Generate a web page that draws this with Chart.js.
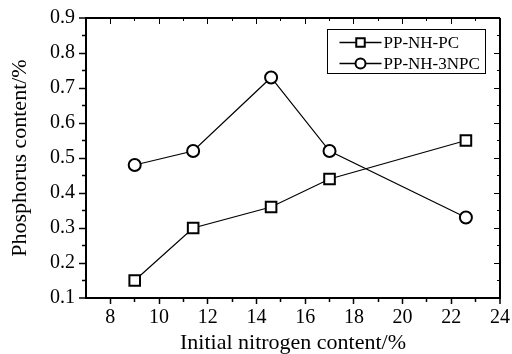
<!DOCTYPE html>
<html>
<head>
<meta charset="utf-8">
<script src="https://cdn.jsdelivr.net/npm/chart.js@4/dist/chart.umd.min.js"></script>
<style>
  html,body{margin:0;padding:0;background:#fff;}
  #wrap{width:512px;height:354px;position:relative;}
</style>
</head>
<body>
<div id="wrap"><canvas id="chart"></canvas></div>
<script>
// phosphorus content vs initial nitrogen content
const nitrogenPC=[9.0,11.4,14.6,17.0,22.6];
const phosPC=[0.15,0.30,0.36,0.44,0.55];
const nitrogen3NPC=[9.0,11.4,14.6,17.0,22.6];
const phos3NPC=[0.48,0.52,0.73,0.52,0.33];
const seriesNames=['PP-NH-PC','PP-NH-3NPC'];

const xMajor=[8,10,12,14,16,18,20,22,24];
const xMinor=[9,11,13,15,17,19,21,23];
const yMajor=[0.1,0.2,0.3,0.4,0.5,0.6,0.7,0.8,0.9];
const yMinor=[0.15,0.25,0.35,0.45,0.55,0.65,0.75,0.85];

const SERIF='"Liberation Serif","Times New Roman",serif';
const has=(arr,v)=>arr.some(a=>Math.abs(a-v)<1e-6);
const tickList=(a,b)=>[...a,...b].sort((p,q)=>p-q).map(v=>({value:v}));

// legend box drawn inside the plot, top right
const boxLegend={id:'boxLegend',afterDraw(chart){
  const {ctx,chartArea:ca}=chart;
  const left=ca.left+241.5,top=ca.top+11.5,w=158,h=44;
  ctx.save();
  ctx.fillStyle='#fff';ctx.strokeStyle='#000';ctx.lineWidth=1;
  ctx.fillRect(left,top,w,h);ctx.strokeRect(left,top,w,h);
  chart.data.datasets.forEach((ds,i)=>{
    const y=top+13+i*21,x0=left+12,x1=left+54,mx=(x0+x1)/2;
    ctx.strokeStyle='#000';ctx.lineWidth=1.5;
    ctx.beginPath();ctx.moveTo(x0,y);ctx.lineTo(x1,y);ctx.stroke();
    ctx.fillStyle='#fff';ctx.lineWidth=2;
    Chart.helpers.drawPoint(ctx,{pointStyle:ds.pointStyle,radius:ds.pointStyle==='rect'?6:5,rotation:0,borderWidth:2},mx,y);
    ctx.fillStyle='#000';ctx.font='17px '+SERIF;ctx.textBaseline='middle';ctx.textAlign='left';
    ctx.fillText(ds.label,x1+2,y+1);
  });
  ctx.restore();
}};

new Chart(document.getElementById('chart'),{type:'line',
  data:{datasets:[
    {label:seriesNames[0],data:nitrogenPC.map((x,i)=>({x,y:phosPC[i]})),
      borderColor:'#000',borderWidth:1.2,pointStyle:'rect',pointRadius:7.5,pointBorderWidth:2,
      pointBackgroundColor:'#fff',pointBorderColor:'#000',tension:0},
    {label:seriesNames[1],data:nitrogen3NPC.map((x,i)=>({x,y:phos3NPC[i]})),
      borderColor:'#000',borderWidth:1.2,pointStyle:'circle',pointRadius:6,pointBorderWidth:2,
      pointBackgroundColor:'#fff',pointBorderColor:'#000',tension:0}]},
  options:{responsive:true,maintainAspectRatio:false,animation:false,
    layout:{padding:{top:18,right:11,left:0,bottom:0}},
    plugins:{legend:{display:false},tooltip:{enabled:false}},
    scales:{
      x:{type:'linear',position:'bottom',min:7,max:24,
        afterBuildTicks:s=>{s.ticks=tickList(xMajor,xMinor);},
        afterFit:s=>{s.height=56;},
        ticks:{autoSkip:false,maxRotation:0,padding:2,color:'#000',font:{family:SERIF,size:20},
          callback:v=>has(xMajor,v)?String(v):''},
        grid:{color:'#000',lineWidth:c=>c.tick&&c.tick.value===24?2:1,
          tickLength:6,tickWidth:1.5,tickColor:'#000',
          tickBorderDash:c=>c.tick&&has(xMinor,c.tick.value)?[3,100]:[]},
        border:{color:'#000',width:2,
          dash:c=>{if(!c.tick)return [];const v=c.tick.value;
            if(v===24)return [];return has(xMajor,v)?[6,10000]:[3,10000];}},
        title:{display:true,text:'Initial nitrogen content/%',color:'#000',
          font:{family:SERIF,size:22,lineHeight:1},padding:0}},
      y:{type:'linear',min:0.1,max:0.9,
        afterBuildTicks:s=>{s.ticks=tickList(yMajor,yMinor);},
        afterFit:s=>{s.width=86;},
        ticks:{autoSkip:false,padding:4,color:'#000',font:{family:SERIF,size:20},
          callback:v=>has(yMajor,v)?v.toFixed(1):''},
        grid:{color:'#000',
          lineWidth:c=>{if(!c.tick)return 1;const v=c.tick.value;
            if(Math.abs(v-0.9)<1e-6)return 2;if(Math.abs(v-0.1)<1e-6)return 0;return 1;},
          tickLength:7,tickWidth:1.5,tickColor:'#000',
          tickBorderDash:c=>c.tick&&has(yMinor,c.tick.value)?[0,3,3,100]:[]},
        border:{color:'#000',width:2,
          dash:c=>{if(!c.tick)return [];const v=c.tick.value;
            if(Math.abs(v-0.9)<1e-6)return [];
            const ca=c.chart.chartArea,w=ca.right-ca.left-1;
            const L=has(yMajor,v)?6:3;return [0,w-L,L,10000];}},
        title:{display:true,text:'Phosphorus content/%',color:'#000',
          font:{family:SERIF,size:22,lineHeight:1},padding:{top:9,bottom:0}}}
    }},
  plugins:[boxLegend]
});
</script>
</body>
</html>
